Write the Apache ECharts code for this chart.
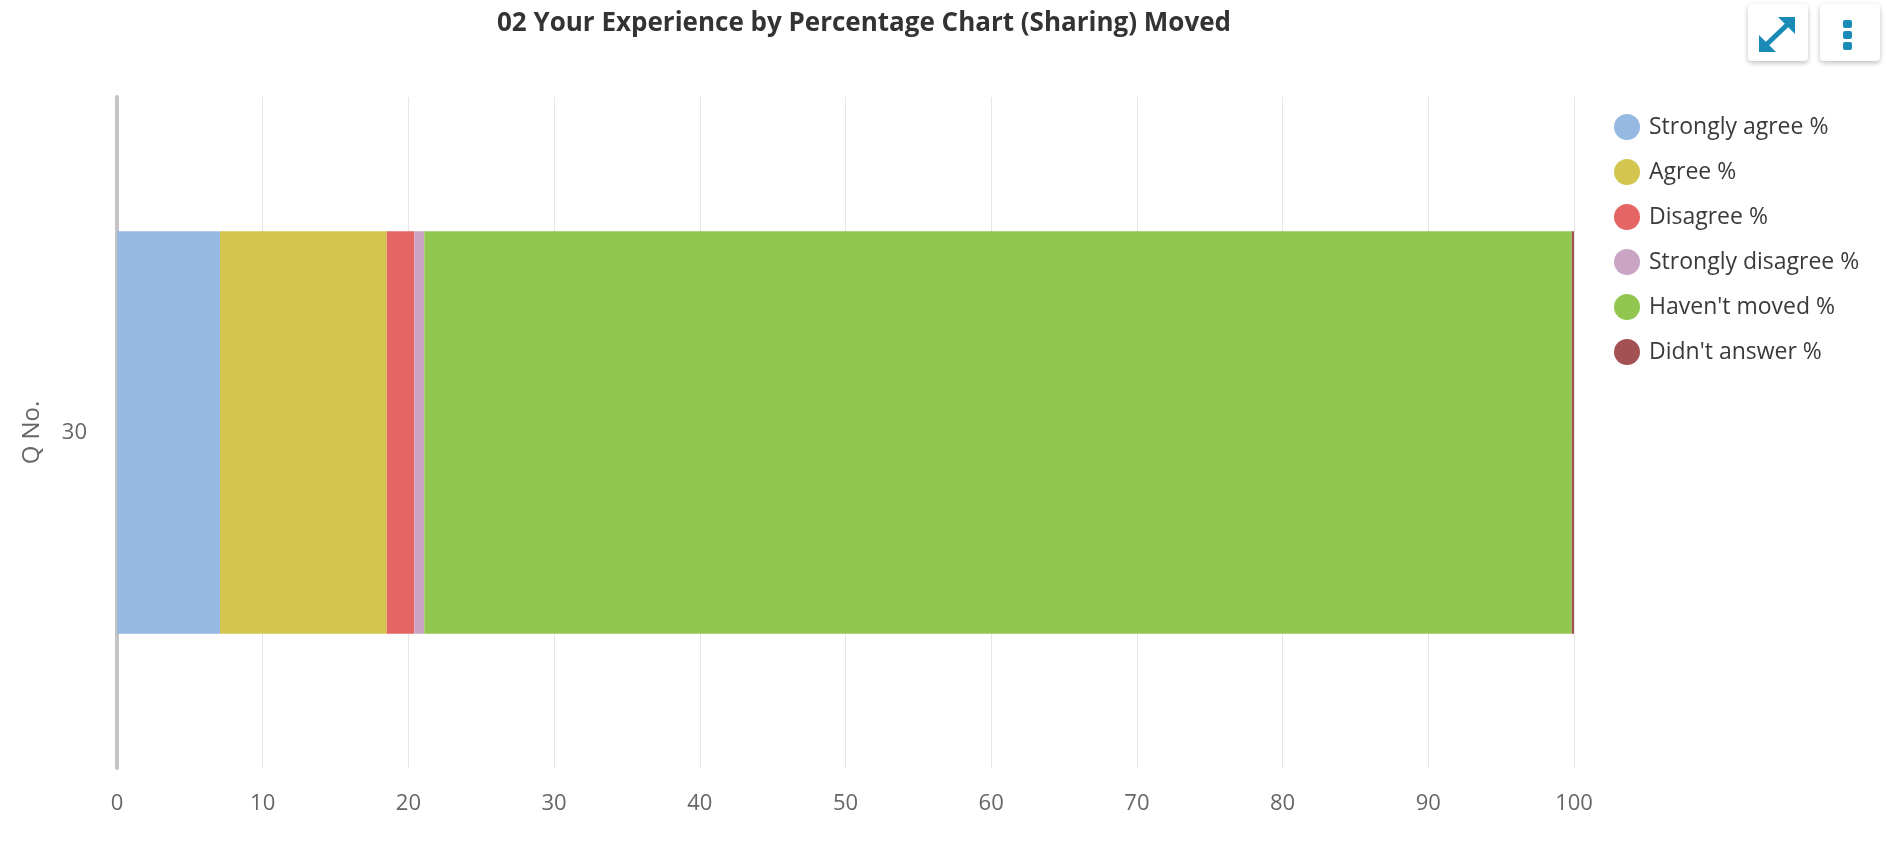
<!DOCTYPE html>
<html>
	<head>
		<meta charset="UTF-8">
		<script type="text/javascript" src="https://cdn.jsdelivr.net/npm/echarts@6/dist/echarts.min.js"></script>
		<title>02 Your Experience by Percentage Chart (Sharing) Moved</title>
		<style>
			html, body { margin: 0; padding: 0; background: #fff; }
			#graph { width: 1887px; height: 848px; }
		</style>
	</head>
	<body>
		<div id="graph"></div>
	</body>
	<script>
		var categories = ['30'];
		var seriesNames = ['Strongly agree %', 'Agree %', 'Disagree %', 'Strongly disagree %', "Haven't moved %", "Didn't answer %"];
		var seriesColors = ['#95b9e1', '#d4c550', '#e46564', '#c9a4c4', '#91c751', '#a35152'];
		var stronglyAgree = [7.07];
		var agree = [11.44];
		var disagree = [1.90];
		var stronglyDisagree = [0.68];
		var haventMoved = [78.75];
		var didntAnswer = [0.16];
		var xTicks = [0, 10, 20, 30, 40, 50, 60, 70, 80, 90, 100];

		var values = [stronglyAgree, agree, disagree, stronglyDisagree, haventMoved, didntAnswer];
		var font = '"Open Sans", "Noto Sans", sans-serif';
		var iconBlue = '#1a8bb6';

		var series = [];
		for (var i = 0; i < seriesNames.length; i++) {
			series.push({
				name: seriesNames[i],
				type: 'bar',
				stack: 'total',
				barCategoryGap: '40%',
				itemStyle: { color: seriesColors[i] },
				emphasis: { disabled: true },
				data: values[i]
			});
		}

		// toolbar buttons top right (expand + menu)
		function button(x) {
			return {
				type: 'rect', x: x, y: 4,
				shape: { x: 0, y: 0, width: 60, height: 57, r: 4 },
				style: { fill: '#fff', shadowBlur: 5, shadowOffsetY: 2, shadowColor: 'rgba(0,0,0,0.25)' }
			};
		}
		function dot(y) {
			return { type: 'rect', shape: { x: 1843, y: y, width: 9, height: 8, r: 2 }, style: { fill: iconBlue } };
		}

		var myChart = echarts.init(document.getElementById('graph'));
		var option = {
			animation: false,
			color: seriesColors,
			title: {
				text: '02 Your Experience by Percentage Chart (Sharing) Moved',
				left: 859,
				top: 6,
				textAlign: 'center',
				textStyle: { fontFamily: font, fontSize: 26, fontWeight: 'bold', color: '#333' }
			},
			legend: {
				orient: 'vertical',
				left: 1609,
				top: 109,
				icon: 'circle',
				itemWidth: 26,
				itemHeight: 26,
				itemGap: 19,
				align: 'left',
				textStyle: { fontFamily: font, fontSize: 23, color: '#3a3a3a', padding: [0, 0, 0, 4] },
				data: seriesNames
			},
			grid: { left: 117, right: 313, top: 97, bottom: 80, containLabel: false },
			xAxis: {
				type: 'value',
				min: xTicks[0],
				max: xTicks[xTicks.length - 1],
				interval: 10,
				axisLine: { show: false },
				axisTick: { show: false },
				axisLabel: { margin: 25, fontFamily: font, fontSize: 22, color: '#666' },
				splitLine: { show: true, lineStyle: { color: '#e6e6e6', width: 1 } }
			},
			yAxis: {
				type: 'category',
				data: categories,
				name: 'Q No.',
				nameLocation: 'middle',
				nameGap: 73,
				nameTextStyle: { fontFamily: font, fontSize: 24, color: '#666' },
				axisLine: { show: true, lineStyle: { color: '#c4c4c4', width: 4, cap: 'round' } },
				axisTick: { show: false },
				axisLabel: { margin: 30, fontFamily: font, fontSize: 22, color: '#666' }
			},
			graphic: [
				button(1748),
				button(1820),
				{ type: 'polygon', shape: { points: [[1795, 17], [1795, 34], [1778, 17]] }, style: { fill: iconBlue } },
				{ type: 'polygon', shape: { points: [[1759, 52], [1759, 35], [1776, 52]] }, style: { fill: iconBlue } },
				{ type: 'line', shape: { x1: 1766, y1: 45, x2: 1788, y2: 24 }, style: { stroke: iconBlue, lineWidth: 5 } },
				dot(20), dot(31), dot(42)
			],
			series: series
		};
		myChart.setOption(option);
	</script>
</html>
